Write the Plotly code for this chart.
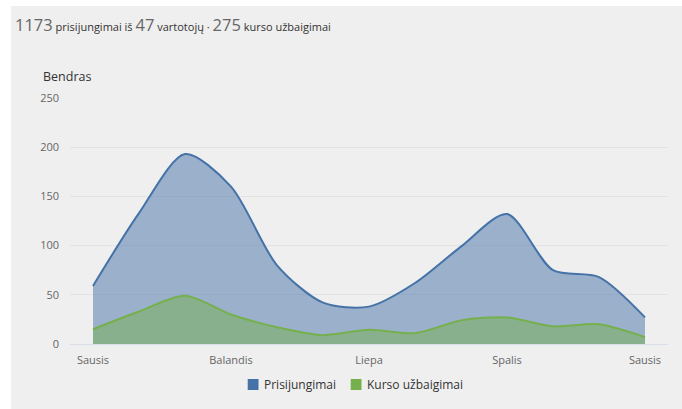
import plotly.graph_objects as go

months = ["Sausis", "Vasaris", "Kovas", "Balandis", "Gegužė", "Birželis", "Liepa",
          "Rugpjūtis", "Rugsėjis", "Spalis", "Lapkritis", "Gruodis", "Sausis"]
logins = [59, 133, 193, 160, 80, 42, 38, 62, 99, 132, 75, 68, 27]
completions = [15, 33, 49, 30, 17, 9, 14.5, 11, 24, 27, 18, 20, 7]
series_names = ["Prisijungimai", "Kurso užbaigimai"]
tick_idx = [0, 3, 6, 9, 12]
y_ticks = [0, 50, 100, 150, 200, 250]

BLUE = "#4572a7"
GREEN = "#76b04d"
FONT = "Open Sans"
BG = "#efefef"

x = list(range(len(months)))
fig = go.Figure()
fig.add_trace(go.Scatter(x=x, y=logins, mode="lines", name=series_names[0],
                         line=dict(color=BLUE, width=2, shape="spline", smoothing=0.8),
                         fill="tozeroy", fillcolor="rgba(69,114,167,0.5)", showlegend=False, hoverinfo="skip"))
fig.add_trace(go.Scatter(x=x, y=completions, mode="lines", name=series_names[1],
                         line=dict(color=GREEN, width=2, shape="spline", smoothing=0.8),
                         fill="tozeroy", fillcolor="rgba(118,176,77,0.5)", showlegend=False, hoverinfo="skip"))

total_logins = 1173
users = 47
total_compl = 275
title = (f"<span style='font-size:16.5px;color:#666'>{total_logins}</span> prisijungimai iš "
         f"<span style='font-size:16.5px;color:#666'>{users}</span> vartotojų · "
         f"<span style='font-size:16.5px;color:#666'>{total_compl}</span> kurso užbaigimai")

def px_x(p):
    return (p - 70) / 598

def px_y(p):
    return (344 - p) / 246

shapes = [
    # white strips at top and left of the grey panel
    dict(type="rect", xref="paper", yref="paper", x0=-0.3, x1=1.2, y0=px_y(6), y1=1.6,
         fillcolor="white", line=dict(width=0), layer="above"),
    dict(type="rect", xref="paper", yref="paper", x0=-0.3, x1=px_x(11), y0=-0.5, y1=1.6,
         fillcolor="white", line=dict(width=0), layer="above"),
    # legend squares
    dict(type="rect", xref="paper", yref="paper", x0=px_x(247.7), x1=px_x(258.5), y0=px_y(390), y1=px_y(379),
         fillcolor=BLUE, line=dict(width=0), layer="above"),
    dict(type="rect", xref="paper", yref="paper", x0=px_x(350.7), x1=px_x(361.5), y0=px_y(390), y1=px_y(379),
         fillcolor=GREEN, line=dict(width=0), layer="above"),
]

annotations = [
    dict(text=title, xref="paper", yref="paper", x=px_x(13), y=px_y(24.5), xanchor="left", yanchor="middle",
         showarrow=False, font=dict(size=11, color="#333", family=FONT)),
    dict(text="Bendras", xref="paper", yref="paper", x=px_x(40.5), y=px_y(76), xanchor="left", yanchor="middle",
         showarrow=False, font=dict(size=12.5, color="#333", family=FONT)),
    dict(text=series_names[0], xref="paper", yref="paper", x=px_x(262), y=px_y(384.5), xanchor="left",
         yanchor="middle", showarrow=False, font=dict(size=12, color="#333", family=FONT)),
    dict(text=series_names[1], xref="paper", yref="paper", x=px_x(365), y=px_y(384.5), xanchor="left",
         yanchor="middle", showarrow=False, font=dict(size=12, color="#333", family=FONT)),
]

fig.update_layout(
    width=682, height=409,
    margin=dict(l=70, r=14, t=98, b=65),
    paper_bgcolor=BG, plot_bgcolor=BG,
    font=dict(family=FONT, size=11, color="#555"),
    shapes=shapes,
    annotations=annotations,
    showlegend=False,
    xaxis=dict(range=[-0.5, 12.5], tickvals=tick_idx, ticktext=[months[i] for i in tick_idx],
               showgrid=False, zeroline=False, showline=True, linecolor="#d8dfe8", linewidth=1,
               ticks="outside", ticklen=6, tickcolor="rgba(0,0,0,0)", tickfont=dict(color="#666", size=11),
               fixedrange=True),
    yaxis=dict(range=[0, 250], tickvals=y_ticks, showgrid=True, gridcolor="#e3e3e3", zeroline=False,
               ticklabelstandoff=10, tickfont=dict(color="#666", size=11), fixedrange=True),
)

fig.write_html("out.html", config={"displayModeBar": False},
               post_script="document.body.style.margin='0';document.body.style.overflow='hidden';")
